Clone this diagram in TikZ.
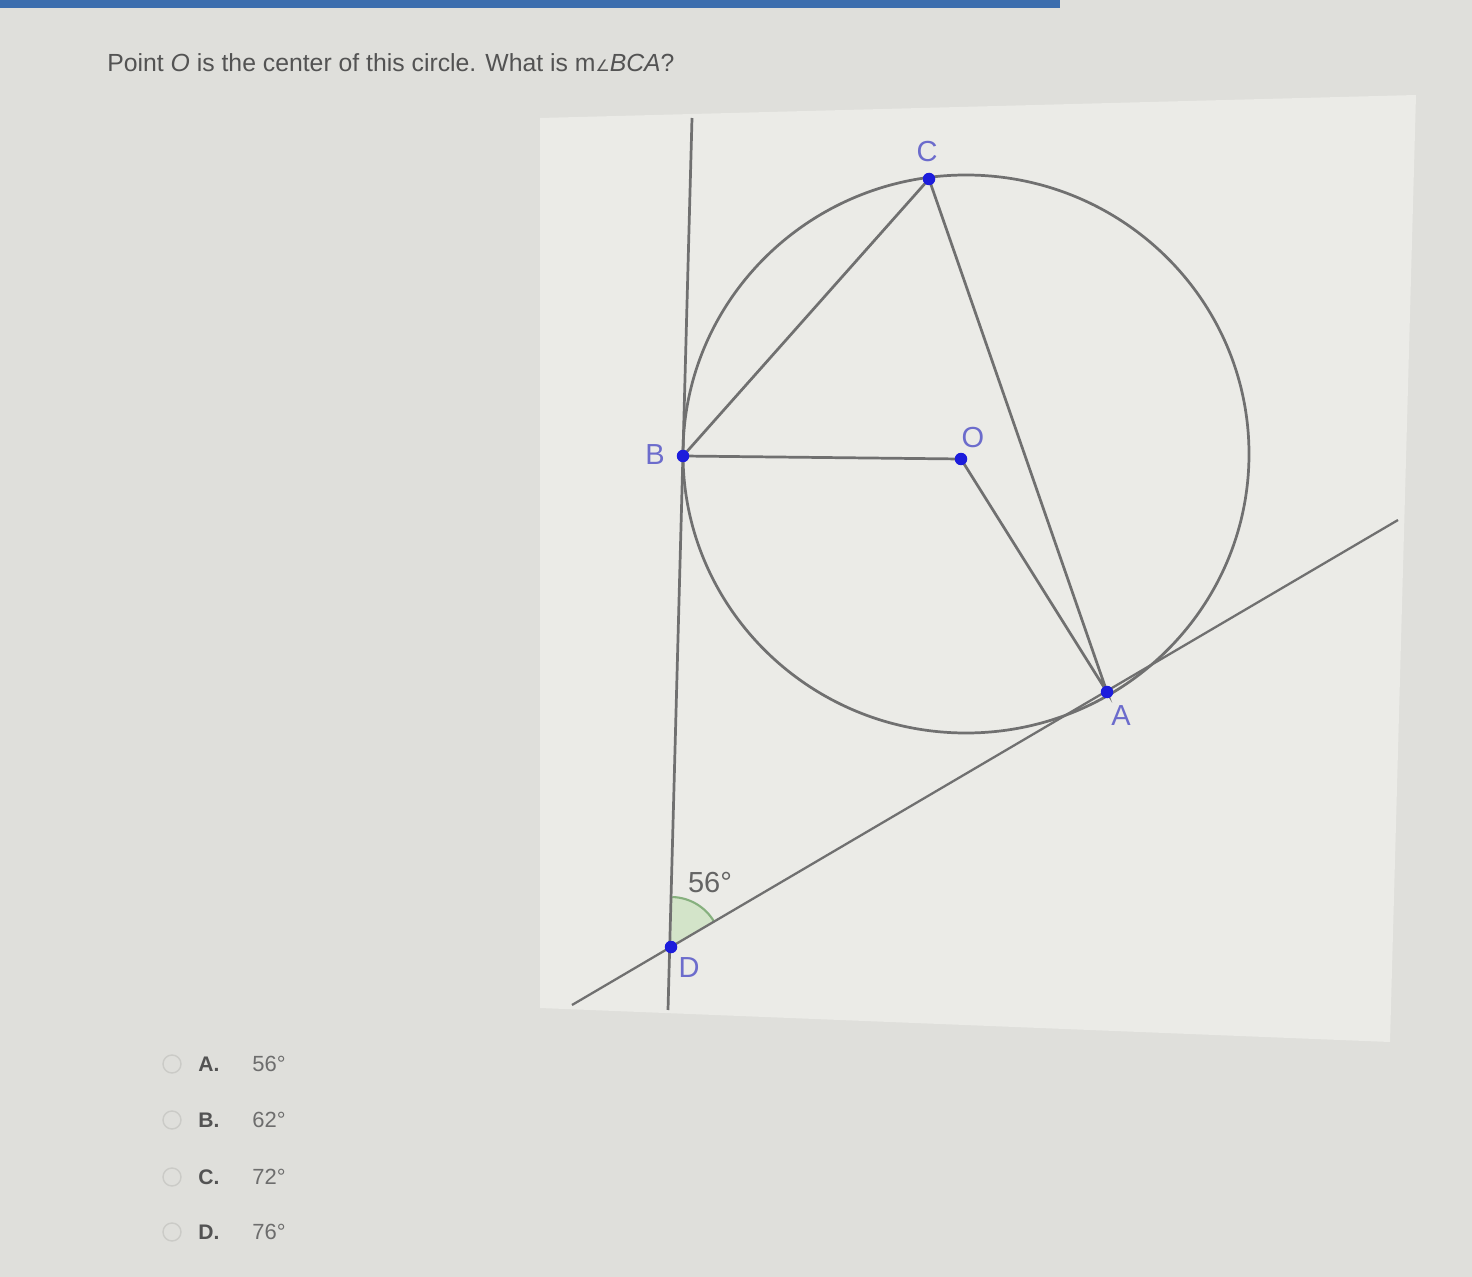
\documentclass[tikz,border=0pt]{standalone}
\usepackage{fontspec}
\setmainfont{Liberation Sans}
\newfontfamily\symfont{DejaVu Sans}
\usepackage{xcolor}
\definecolor{pageBg}{HTML}{DFDFDB}
\definecolor{panelBg}{HTML}{EBEBE7}
\definecolor{barBlue}{HTML}{3C6EAE}
\definecolor{lineGray}{HTML}{707070}
\definecolor{ptBlue}{HTML}{1C1CDC}
\definecolor{labelBlue}{HTML}{6C6CCC}
\definecolor{textGray}{HTML}{535353}
\definecolor{angleFill}{HTML}{D3E4C9}
\definecolor{angleEdge}{HTML}{86B07E}
\definecolor{radioGray}{HTML}{CBCBC7}
\usepackage{tikz}
\usetikzlibrary{positioning,calc,angles}
\tikzset{%
  geoLine/.style={%
    draw=lineGray,
    line width=1.55pt
  },
  geoPoint/.style={%
    circle,
    fill=ptBlue,
    inner sep=0pt,
    minimum size=0.25cm
  },
  ptLabel/.style={%
    text=labelBlue,
    font=\fontsize{16.5}{18}\selectfont,
    inner sep=0pt
  },
  questionText/.style={%
    text=textGray,
    font=\fontsize{14.1}{17}\selectfont,
    inner sep=0pt
  },
  optLetter/.style={%
    text=textGray,
    font=\fontsize{12}{14}\selectfont\bfseries,
    inner sep=0pt
  },
  optValue/.style={%
    text=textGray!85,
    font=\fontsize{12.5}{14}\selectfont,
    inner sep=0pt
  },
  radioBtn/.style={%
    circle,
    draw=radioGray,
    line width=0.8pt,
    minimum size=0.36cm,
    inner sep=0pt
  }
}

\begin{document}
\begin{tikzpicture}[x=0.02cm, y=-0.02cm]
    \useasboundingbox (0,0) rectangle (1472,1277);
    \fill[pageBg] (0,0) rectangle (1472,1277);
    \fill[barBlue] (0,0) rectangle (1060,8);
    \fill[panelBg] (540,118) -- (1416,95) -- (1390,1042) -- (540,1008) -- cycle;

    % points of the figure
    \coordinate (B) at (683,456);
    \coordinate (O) at (961,459);
    \coordinate (C) at (929,179);
    \coordinate (A) at (1107,692);
    \coordinate (D) at (671,947);
    \coordinate (ctr) at (966,454);
    \coordinate (vtop) at (692,118);
    \coordinate (vbot) at (668,1010);
    \coordinate (tl) at (572,1005);
    \coordinate (tr) at (1398,520);

    \pic[draw=angleEdge, fill=angleFill, line width=1.2pt, angle radius=1cm] {angle=tr--D--vtop};

    \draw[geoLine] (vtop) -- (vbot);
    \draw[geoLine, line width=1.3pt] (tl) -- (tr);
    \draw[geoLine] (ctr) ellipse [x radius=283, y radius=279];
    \draw[geoLine] (B) -- (C) -- (A) -- (O) -- (B);

    \node[geoPoint] (ptB) at (B) {};
    \node[geoPoint] (ptO) at (O) {};
    \node[geoPoint] (ptC) at (C) {};
    \node[geoPoint] (ptA) at (A) {};
    \node[geoPoint] (ptD) at (D) {};

    \node[ptLabel] (labB) at (655,455) {B};
    \node[ptLabel] (labC) at (927,152) {C};
    \node[ptLabel] (labO) at (973,438) {O};
    \node[ptLabel] (labA) at (1121,716) {A};
    \node[ptLabel] (labD) at (689,968) {D};
    \node[ptLabel, text=textGray!90] (labAngle) at (710,883) {56°};

    \node[questionText, anchor=base west] (question) at (107,72)
      {Point \textit{O} is the center of this circle. What is m{\symfont\fontsize{9}{9}\selectfont ∠}\textit{BCA}?};

    \foreach \ltr/\val/\yy in {A/56/1064, B/62/1120, C/72/1177, D/76/1232}{
      \node[radioBtn] (radio\ltr) at (172,\yy) {};
      \node[optLetter, anchor=west] (opt\ltr) at (198,\yy) {\ltr.};
      \node[optValue, anchor=west] (val\ltr) at (252,\yy) {\val°};
    }

\end{tikzpicture}
\end{document}
